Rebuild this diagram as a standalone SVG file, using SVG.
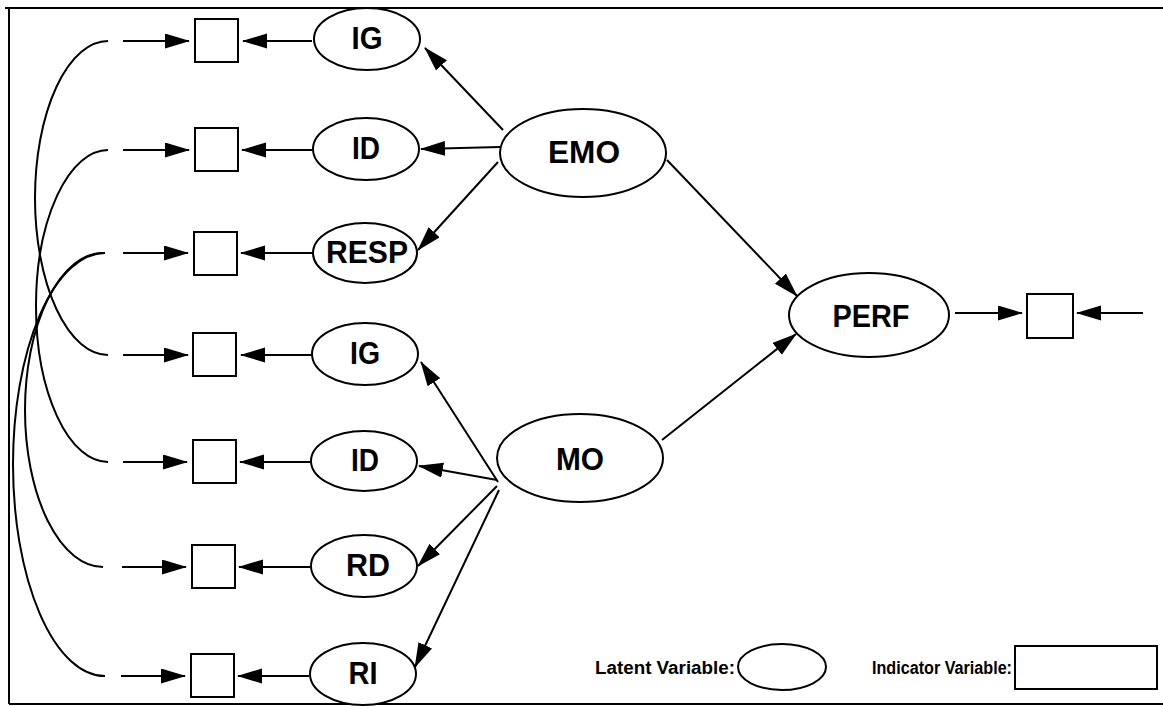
<svg xmlns="http://www.w3.org/2000/svg" width="1163" height="706" viewBox="0 0 1163 706">
<style>
.ln{stroke:#000;stroke-width:2;fill:none}
.nd{stroke:#000;stroke-width:2;fill:#fff}
.lb{font-family:"Liberation Sans",Arial,Helvetica,sans-serif;font-weight:bold;font-size:31px;text-anchor:middle;fill:#000}
.lg{font-family:"Liberation Sans",Arial,Helvetica,sans-serif;font-weight:bold;font-size:18px;fill:#000}
</style>
<defs>
<marker id="ah" markerUnits="userSpaceOnUse" markerWidth="26" markerHeight="16" refX="24" refY="7.5" orient="auto">
<path d="M0,0 L25,7.5 L0,15 Z" fill="#000"/>
</marker>
</defs>
<rect width="1163" height="706" fill="#fff"/>
<g id="frame">
<path class="ln" d="M5,8 H1163 M9,8 V704 M9,704 H1163"/>
</g>
<g id="connectors">
<path class="ln" d="M108,41 A73,157 0 0 0 108,355"/>
<path class="ln" d="M108,150 A72,156 0 0 0 108,462"/>
<path class="ln" d="M103,253 A78,157 0 0 0 103,567"/>
<path class="ln" d="M105,253 A92,211.5 0 0 0 105,676"/>
<line class="ln" x1="123" y1="41" x2="189" y2="41" marker-end="url(#ah)"/>
<line class="ln" x1="123" y1="150" x2="189" y2="150" marker-end="url(#ah)"/>
<line class="ln" x1="123" y1="253" x2="188" y2="253" marker-end="url(#ah)"/>
<line class="ln" x1="123" y1="355" x2="188" y2="355" marker-end="url(#ah)"/>
<line class="ln" x1="123" y1="462" x2="187" y2="462" marker-end="url(#ah)"/>
<line class="ln" x1="122" y1="567" x2="186" y2="567" marker-end="url(#ah)"/>
<line class="ln" x1="121" y1="676" x2="185" y2="676" marker-end="url(#ah)"/>
<line class="ln" x1="312" y1="41" x2="243" y2="41" marker-end="url(#ah)"/>
<line class="ln" x1="312" y1="150" x2="242" y2="150" marker-end="url(#ah)"/>
<line class="ln" x1="312" y1="253" x2="241" y2="253" marker-end="url(#ah)"/>
<line class="ln" x1="311" y1="355" x2="241" y2="355" marker-end="url(#ah)"/>
<line class="ln" x1="311" y1="462" x2="240" y2="462" marker-end="url(#ah)"/>
<line class="ln" x1="310" y1="567" x2="239" y2="567" marker-end="url(#ah)"/>
<line class="ln" x1="309" y1="676" x2="238" y2="676" marker-end="url(#ah)"/>
<line class="ln" x1="503" y1="130" x2="425" y2="48" marker-end="url(#ah)"/>
<line class="ln" x1="500" y1="147" x2="421" y2="149" marker-end="url(#ah)"/>
<line class="ln" x1="498" y1="162" x2="418" y2="250" marker-end="url(#ah)"/>
<line class="ln" x1="667" y1="160" x2="797" y2="296" marker-end="url(#ah)"/>
<line class="ln" x1="498" y1="482" x2="421" y2="362" marker-end="url(#ah)"/>
<line class="ln" x1="497" y1="480" x2="419" y2="466" marker-end="url(#ah)"/>
<line class="ln" x1="497" y1="486" x2="418" y2="566" marker-end="url(#ah)"/>
<line class="ln" x1="499" y1="490" x2="415" y2="667" marker-end="url(#ah)"/>
<line class="ln" x1="662" y1="440" x2="796" y2="334" marker-end="url(#ah)"/>
<line class="ln" x1="955" y1="313" x2="1022" y2="313" marker-end="url(#ah)"/>
<line class="ln" x1="1143" y1="313" x2="1077" y2="313" marker-end="url(#ah)"/>
</g>
<g id="ind1"><rect class="nd" x="195" y="19" width="43" height="43"/></g>
<g id="ind2"><rect class="nd" x="195" y="128" width="43" height="43"/></g>
<g id="ind3"><rect class="nd" x="194" y="232" width="43" height="43"/></g>
<g id="ind4"><rect class="nd" x="193" y="333" width="43" height="43"/></g>
<g id="ind5"><rect class="nd" x="193" y="440" width="43" height="43"/></g>
<g id="ind6"><rect class="nd" x="192" y="545" width="43" height="43"/></g>
<g id="ind7"><rect class="nd" x="191" y="654" width="43" height="43"/></g>
<g id="ind8"><rect class="nd" x="1027" y="294" width="46" height="44"/></g>
<g id="ig1"><ellipse class="nd" cx="367" cy="39" rx="53" ry="31"/><text class="lb" x="367" y="49" textLength="31" lengthAdjust="spacingAndGlyphs">IG</text></g>
<g id="id1"><ellipse class="nd" cx="366" cy="149" rx="53" ry="31"/><text class="lb" x="366" y="159" textLength="28" lengthAdjust="spacingAndGlyphs">ID</text></g>
<g id="resp"><ellipse class="nd" cx="365" cy="253" rx="52" ry="30"/><text class="lb" x="367" y="263" textLength="82" lengthAdjust="spacingAndGlyphs">RESP</text></g>
<g id="ig2"><ellipse class="nd" cx="365" cy="354" rx="53" ry="31"/><text class="lb" x="365" y="364" textLength="30" lengthAdjust="spacingAndGlyphs">IG</text></g>
<g id="id2"><ellipse class="nd" cx="364" cy="461" rx="53" ry="30"/><text class="lb" x="365" y="471" textLength="28" lengthAdjust="spacingAndGlyphs">ID</text></g>
<g id="rd"><ellipse class="nd" cx="364" cy="566" rx="53" ry="31"/><text class="lb" x="368" y="576" textLength="44" lengthAdjust="spacingAndGlyphs">RD</text></g>
<g id="ri"><ellipse class="nd" cx="363" cy="674" rx="53" ry="31"/><text class="lb" x="363" y="684" textLength="29" lengthAdjust="spacingAndGlyphs">RI</text></g>
<g id="emo"><ellipse class="nd" cx="583" cy="153" rx="83" ry="44"/><text class="lb" x="584" y="163" textLength="72" lengthAdjust="spacingAndGlyphs">EMO</text></g>
<g id="mo"><ellipse class="nd" cx="580" cy="458" rx="83" ry="44"/><text class="lb" x="580" y="470" textLength="48" lengthAdjust="spacingAndGlyphs">MO</text></g>
<g id="perf"><ellipse class="nd" cx="869" cy="315" rx="80" ry="42"/><text class="lb" x="871" y="327" textLength="77" lengthAdjust="spacingAndGlyphs">PERF</text></g>
<g id="legend">
<text class="lg" x="595" y="674" textLength="140" lengthAdjust="spacingAndGlyphs">Latent Variable:</text>
<ellipse class="nd" cx="782" cy="667" rx="44" ry="23"/>
<text class="lg" x="872" y="674" textLength="140" lengthAdjust="spacingAndGlyphs">Indicator Variable:</text>
<rect class="nd" x="1015" y="646" width="142" height="43"/>
</g>
</svg>
